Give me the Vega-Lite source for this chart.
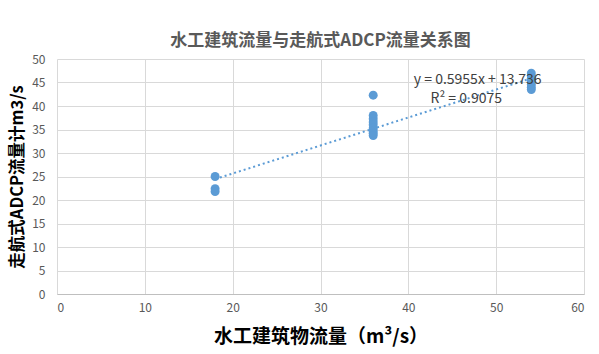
{
  "$schema": "https://vega.github.io/schema/vega-lite/v6.json",
  "autosize": {"type": "none"},
  "width": 527,
  "height": 235,
  "padding": {"left": 57, "top": 59, "right": 15, "bottom": 60},
  "background": "white",
  "config": {
    "font": "Noto Sans CJK SC",
    "view": {"stroke": null}
  },
  "title": {
    "text": "水工建筑流量与走航式ADCP流量关系图",
    "fontSize": 17,
    "fontWeight": "bold",
    "color": "#595959",
    "anchor": "middle",
    "offset": 3
  },
  "datasets": {
    "pts": [
      {"x": 18, "y": 25.0},
      {"x": 18, "y": 22.4},
      {"x": 18, "y": 21.8},
      {"x": 36, "y": 42.3},
      {"x": 36, "y": 38.0},
      {"x": 36, "y": 37.3},
      {"x": 36, "y": 36.6},
      {"x": 36, "y": 36.0},
      {"x": 36, "y": 35.3},
      {"x": 36, "y": 34.7},
      {"x": 36, "y": 34.2},
      {"x": 36, "y": 33.7},
      {"x": 54, "y": 47.0},
      {"x": 54, "y": 46.4},
      {"x": 54, "y": 45.8},
      {"x": 54, "y": 45.2},
      {"x": 54, "y": 44.6},
      {"x": 54, "y": 44.0},
      {"x": 54, "y": 43.5}
    ],
    "trend": [
      {"x": 18, "y": 24.45},
      {"x": 54, "y": 45.89}
    ],
    "labels": [
      {"x": 47.9, "y": 45.6, "t": "y = 0.5955x + 13.736"},
      {"x": 46.6, "y": 41.5, "t": "R² = 0.9075"}
    ]
  },
  "encoding": {
    "x": {
      "field": "x", "type": "quantitative",
      "scale": {"domain": [0, 60], "nice": false},
      "axis": {
        "title": "水工建筑物流量（m³/s）",
        "titleFontSize": 19, "titleFontWeight": "bold", "titleColor": "#000000",
        "titlePadding": 14,
        "values": [0, 10, 20, 30, 40, 50, 60],
        "labelFontSize": 12, "labelColor": "#595959", "labelPadding": 8,
        "ticks": false, "domainColor": "#bfbfbf",
        "gridColor": "#d9d9d9", "grid": true
      }
    },
    "y": {
      "field": "y", "type": "quantitative",
      "scale": {"domain": [0, 50], "nice": false},
      "axis": {
        "title": "走航式ADCP流量计m3/s",
        "titleFontSize": 16.5, "titleFontWeight": "bold", "titleColor": "#000000",
        "titlePadding": 6,
        "values": [0, 5, 10, 15, 20, 25, 30, 35, 40, 45, 50],
        "labelFontSize": 12, "labelColor": "#595959", "labelPadding": 12,
        "labelOverlap": false,
        "ticks": false, "domain": false,
        "gridColor": "#d9d9d9", "grid": true
      }
    }
  },
  "layer": [
    {
      "data": {"name": "pts"},
      "mark": {"type": "circle", "size": 80, "color": "#5b9bd5", "opacity": 1}
    },
    {
      "data": {"name": "trend"},
      "mark": {"type": "line", "color": "#5b9bd5", "strokeWidth": 2, "strokeDash": [2, 3]}
    },
    {
      "data": {"name": "labels"},
      "mark": {"type": "text", "fontSize": 14, "color": "#404040", "align": "center", "baseline": "middle"},
      "encoding": {
        "text": {"field": "t"}
      }
    }
  ]
}
